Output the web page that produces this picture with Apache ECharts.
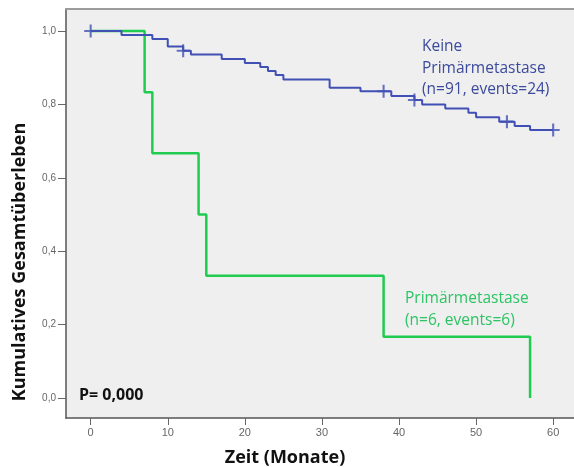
<!DOCTYPE html>
<html>
<head>
<meta charset="utf-8">
<script src="https://cdn.jsdelivr.net/npm/echarts@6/dist/echarts.min.js"></script>
<style>
  html, body { margin: 0; background: #fff; }
  #chart { width: 574px; height: 467px; }
</style>
</head>
<body>
<div id="chart"></div>
<script>
// tick positions
const monthTicks = [0, 10, 20, 30, 40, 50, 60];
const survTicks = [0, 0.2, 0.4, 0.6, 0.8, 1.0];

// Keine Primärmetastase (n=91)
const keineTimes = [0, 4, 8, 10, 12, 13, 17, 20, 22, 23, 24, 25, 31, 35, 39, 42, 43, 46, 49, 50, 53, 55, 57, 60];
const keineSurv  = [1.0, 0.989, 0.978, 0.958, 0.946, 0.936, 0.924, 0.913, 0.902, 0.891, 0.880, 0.868, 0.845, 0.836, 0.823, 0.812, 0.800, 0.789, 0.777, 0.765, 0.753, 0.741, 0.730, 0.730];
const keineCensTimes = [0, 12, 38, 42, 54, 60];
const keineCensSurv  = [1.0, 0.946, 0.836, 0.812, 0.753, 0.730];

// Primärmetastase (n=6)
const primTimes = [0, 7, 8, 14, 15, 38, 57];
const primSurv  = [1.0, 0.833, 0.667, 0.5, 0.333, 0.167, 0.0];

const BLUE = '#4150b4';
const GREEN = '#1fcc50';

const zip = (a, b) => a.map((v, i) => [v, b[i]]);

// thin "+" censor mark
const CROSS = 'path://M-0.16,-1H0.16V1H-0.16Z M-1,-0.16H1V0.16H-1Z';

const chart = echarts.init(document.getElementById('chart'));

chart.setOption({
  animation: false,
  backgroundColor: '#fff',
  grid: {
    left: 66, top: 9, right: 0, bottom: 49,
    show: true,
    backgroundColor: '#efefef',
    borderWidth: 0
  },
  xAxis: [{
    type: 'value',
    min: -3.2, max: 62.7,
    splitLine: { show: false },
    axisLine: { show: true, onZero: false, lineStyle: { color: '#555', width: 1.5 } },
    axisTick: { show: true, length: 7, customValues: monthTicks, lineStyle: { color: '#666' } },
    axisLabel: {
      customValues: monthTicks,
      margin: 9,
      fontFamily: 'Liberation Sans Narrow, Liberation Sans',
      fontSize: 11, color: '#666'
    }
  }, {
    // top frame line only
    type: 'value', position: 'top',
    min: -3.2, max: 62.7,
    splitLine: { show: false },
    axisLine: { show: true, onZero: false, lineStyle: { color: '#9c9c9c', width: 2 } },
    axisTick: { show: false },
    axisLabel: { show: false }
  }],
  yAxis: {
    type: 'value',
    min: -0.0545, max: 1.0599,
    splitLine: { show: false },
    axisLine: { show: true, onZero: false, lineStyle: { color: '#555', width: 1.5 } },
    axisTick: { show: true, length: 8, customValues: survTicks, lineStyle: { color: '#666' } },
    axisLabel: {
      customValues: survTicks,
      margin: 10,
      fontFamily: 'Liberation Sans Narrow, Liberation Sans',
      fontSize: 10, color: '#666',
      formatter: v => v.toFixed(1).replace('.', ',')
    }
  },
  graphic: [
    { type: 'text', x: 285, y: 458, style: { text: 'Zeit (Monate)', fill: '#111', font: 'bold 18px Open Sans', align: 'center', verticalAlign: 'middle' } },
    { type: 'text', x: 20, y: 262, rotation: Math.PI / 2, style: { text: 'Kumulatives Gesamtüberleben', fill: '#111', font: 'bold 18px Open Sans', align: 'center', verticalAlign: 'middle' } },
    { type: 'text', left: 422, top: 36, style: { text: 'Keine\nPrimärmetastase\n(n=91, events=24)', fill: '#3c4a9c', font: '15.5px Open Sans', lineHeight: 21.5 } },
    { type: 'text', left: 405, top: 288, style: { text: 'Primärmetastase\n(n=6, events=6)', fill: '#2cc464', font: '15.5px Open Sans', lineHeight: 21.5 } },
    { type: 'text', left: 79, top: 387, style: { text: 'P= 0,000', fill: '#111', font: 'bold 16px Open Sans' } }
  ],
  series: [
    {
      type: 'line', step: 'end', data: zip(primTimes, primSurv),
      showSymbol: false, lineStyle: { color: GREEN, width: 2.5 }, z: 3
    },
    {
      type: 'line', step: 'end', data: zip(keineTimes, keineSurv),
      showSymbol: false, lineStyle: { color: BLUE, width: 2 }, z: 4
    },
    {
      type: 'scatter', data: zip(keineCensTimes, keineCensSurv),
      symbol: CROSS, symbolSize: 13, itemStyle: { color: BLUE }, z: 5
    }
  ]
});
</script>
</body>
</html>
